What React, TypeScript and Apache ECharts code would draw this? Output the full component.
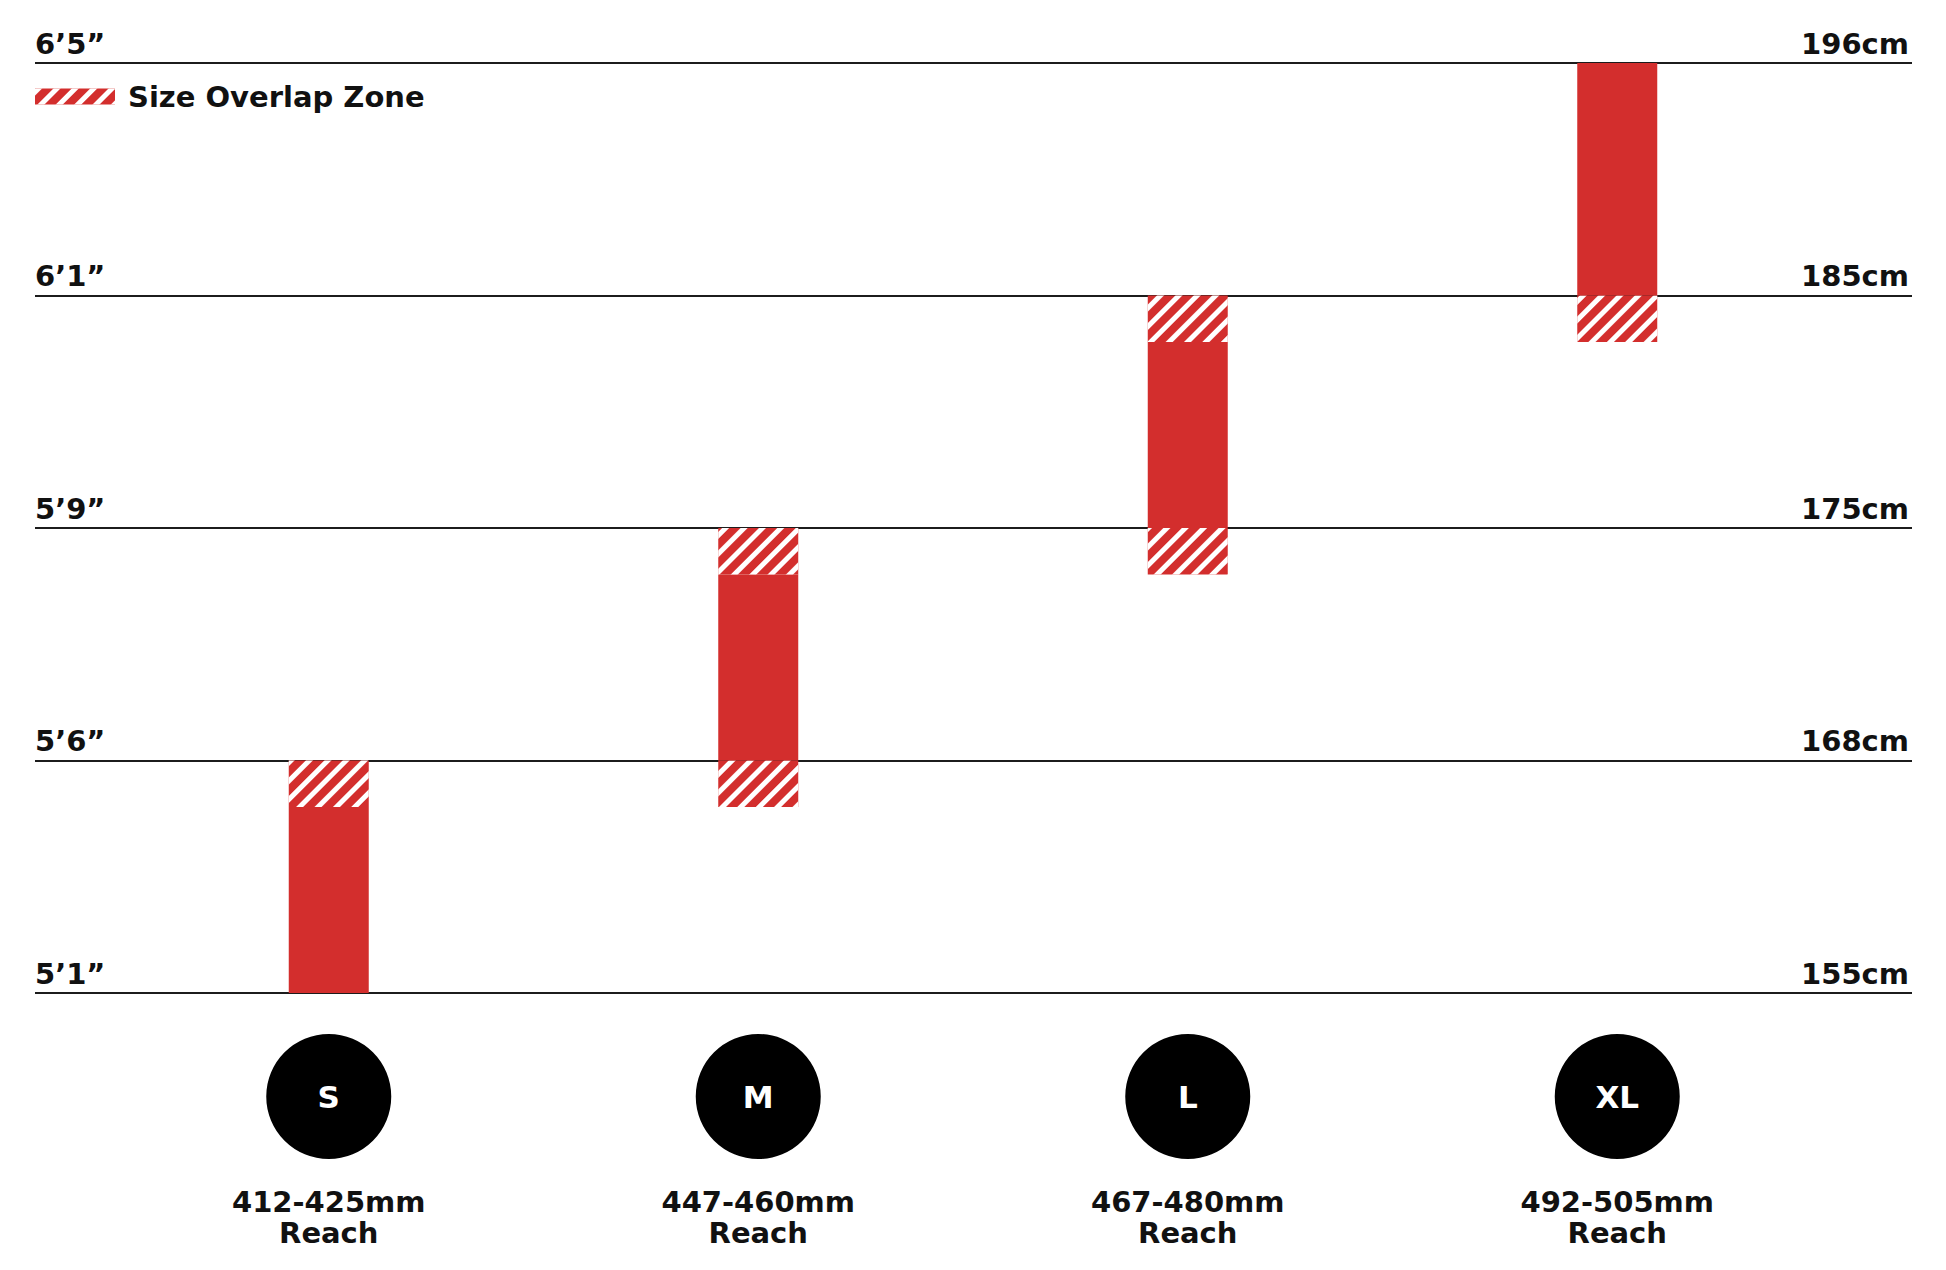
import React, { useEffect, useRef } from "react";
import * as echarts from "echarts";

// Frame sizes (categories)
const sizes = ["S", "M", "L", "XL"];
const reach = ["412-425mm", "447-460mm", "467-480mm", "492-505mm"];

// Rider height levels (equally spaced rows)
const heightFt = ["5’1”", "5’6”", "5’9”", "6’1”", "6’5”"];
const heightCm = ["155cm", "168cm", "175cm", "185cm", "196cm"];

// Bar ranges expressed in height-level units (0 = 5'1", 4 = 6'5")
const barStart = [0, 0.8, 1.8, 2.8];
const overlapBelow = [0, 0.2, 0.2, 0.2];
const coreFit = [0.8, 0.8, 0.8, 1.0];
const overlapAbove = [0.2, 0.2, 0.2, 0];

const RED = "#d32e2d";
const INK = "#111111";
const FONT = "'DejaVu Sans', 'Open Sans', sans-serif";

const hatch = {
  color: RED,
  decal: {
    symbol: "rect",
    symbolSize: 1,
    color: "#ffffff",
    backgroundColor: RED,
    dashArrayX: [1, 0],
    dashArrayY: [4.5, 7.5],
    rotation: -Math.PI / 4,
  },
};

export default function App() {
  const ref = useRef<HTMLDivElement>(null);
  useEffect(() => {
    if (!ref.current) return;
    const chart = echarts.init(ref.current, null, { renderer: "svg" });
    const GRID_TOP = 63;
    const GRID_BOTTOM = 277;
    const labelStyle = {
      fontSize: 29,
      fontWeight: "bold",
      color: INK,
      fontFamily: FONT,
    };
    const option: any = {
      animation: false,
      backgroundColor: "#ffffff",
      textStyle: { fontFamily: FONT },
      legend: {
        show: true,
        left: 35,
        top: 82,
        padding: 0,
        itemWidth: 80,
        itemHeight: 16,
        icon: "rect",
        data: ["Size Overlap Zone"],
        selectedMode: false,
        textStyle: { ...labelStyle, padding: [0, 0, 0, 8] },
      },
      grid: [
        { left: 35, right: 34, top: GRID_TOP, bottom: GRID_BOTTOM },
        { left: 114, right: 114, top: GRID_TOP, bottom: GRID_BOTTOM },
      ],
      xAxis: [
        { gridIndex: 0, type: "value", show: false, min: 0, max: 1 },
        {
          gridIndex: 1,
          type: "category",
          position: "bottom",
          data: sizes,
          axisLine: { show: false },
          axisTick: { show: false },
          axisLabel: {
            margin: 41,
            interval: 0,
            formatter: (v: string) => `{c|${v}}`,
            rich: {
              c: {
                width: 125,
                height: 125,
                lineHeight: 125,
                borderRadius: 62.5,
                backgroundColor: "#000000",
                color: "#ffffff",
                fontSize: 31,
                fontWeight: "bold",
                fontFamily: FONT,
                align: "center",
              },
            },
          },
        },
        {
          gridIndex: 1,
          type: "category",
          position: "bottom",
          offset: 0,
          data: sizes,
          axisLine: { show: false },
          axisTick: { show: false },
          axisLabel: {
            margin: 193,
            interval: 0,
            fontSize: 29,
            lineHeight: 31,
            fontWeight: "bold",
            color: INK,
            fontFamily: FONT,
            align: "center",
            formatter: (_v: string, i: number) => `${reach[i]}\nReach`,
          },
        },
      ],
      yAxis: [
        {
          gridIndex: 0,
          type: "value",
          min: 0,
          max: 4,
          interval: 1,
          position: "left",
          axisLine: { show: false },
          axisTick: { show: false },
          splitLine: { show: true, lineStyle: { color: "#1c1c1c", width: 2 } },
          axisLabel: {
            inside: true,
            margin: 0,
            align: "left",
            verticalAlign: "bottom",
            padding: [0, 0, 5, 0],
            ...labelStyle,
            formatter: (v: number) => heightFt[v] ?? "",
          },
        },
        {
          gridIndex: 0,
          type: "value",
          min: 0,
          max: 4,
          interval: 1,
          position: "right",
          axisLine: { show: false },
          axisTick: { show: false },
          splitLine: { show: false },
          axisLabel: {
            inside: true,
            margin: 3,
            align: "right",
            verticalAlign: "bottom",
            padding: [0, 0, 5, 0],
            ...labelStyle,
            formatter: (v: number) => heightCm[v] ?? "",
          },
        },
        { gridIndex: 1, type: "value", min: 0, max: 4, interval: 1, show: false },
      ],
      series: [
        {
          name: "base",
          type: "bar",
          xAxisIndex: 1,
          yAxisIndex: 2,
          stack: "fit",
          barWidth: 80,
          data: barStart,
          itemStyle: { color: "rgba(0,0,0,0)" },
          silent: true,
        },
        {
          name: "Size Overlap Zone",
          type: "bar",
          xAxisIndex: 1,
          yAxisIndex: 2,
          stack: "fit",
          barWidth: 80,
          data: overlapBelow,
          itemStyle: hatch,
        },
        {
          name: "Fit",
          type: "bar",
          xAxisIndex: 1,
          yAxisIndex: 2,
          stack: "fit",
          barWidth: 80,
          data: coreFit,
          itemStyle: { color: RED },
        },
        {
          name: "Size Overlap Zone",
          type: "bar",
          xAxisIndex: 1,
          yAxisIndex: 2,
          stack: "fit",
          barWidth: 80,
          data: overlapAbove,
          itemStyle: hatch,
        },
      ],
    };
    chart.setOption(option);
    return () => chart.dispose();
  }, []);
  return (
    <div
      ref={ref}
      style={{ position: "absolute", left: 0, top: 0, width: 1946, height: 1270 }}
    />
  );
}
